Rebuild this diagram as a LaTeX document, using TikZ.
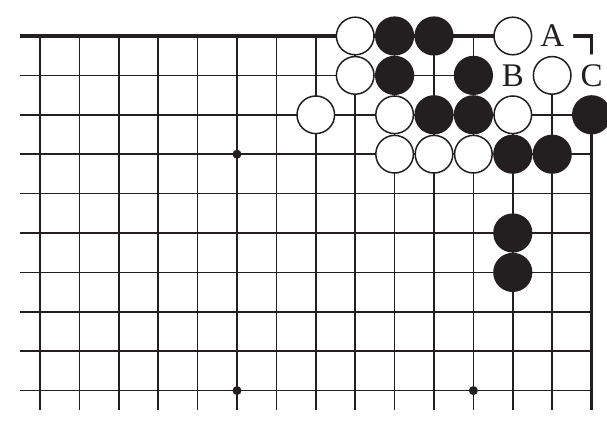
\documentclass[tikz,border=0pt]{standalone}
\usepackage{fontspec}
\newfontfamily\markfont{Liberation Serif}
\usetikzlibrary{backgrounds}
\definecolor{ink}{RGB}{35,31,32}
\tikzset{
  gridline/.style={line width=1.7pt, color=ink},
  edgeline/.style={line width=3.8pt, color=ink, line join=miter},
  whitestone/.style={circle, draw=ink, line width=1.5pt, fill=white, minimum size=37.6pt, inner sep=0pt},
  blackstone/.style={circle, fill=ink, minimum size=39.2pt, inner sep=0pt},
  starpoint/.style={circle, fill=ink, minimum size=9pt, inner sep=0pt},
  marklabel/.style={circle, fill=white, minimum size=42pt, inner sep=0pt, text=ink, font=\markfont\fontsize{33}{33}\selectfont},
}
\begin{document}
\begin{tikzpicture}[x=39.4pt,y=-39.4pt]
\useasboundingbox (-1.0152,-0.9137) rectangle (14.391,10);

%Grid lines
\foreach \r in {1,...,9} \draw[gridline] (-0.508,\r) -- (14,\r);
\foreach \c in {0,...,13} \draw[gridline] (\c,0) -- (\c,9.49);
%Board edges
\draw[edgeline] (-0.508,0) -- (14,0) -- (14,9.49);

%Star points
\foreach \c/\r in {5/3,5/9,11/9} \node[starpoint] (star-\c-\r) at (\c,\r) {};

%Letter marks
\node[marklabel] (mark-A) at (13,0) {A};
\node[marklabel] (mark-B) at (12,1) {B};
\node[marklabel] (mark-C) at (14,1) {C};

%Black stones
\foreach \c/\r in {9/0,10/0,9/1,11/1,10/2,11/2,14/2,12/3,13/3,12/5,12/6}
  \node[blackstone] (b-\c-\r) at (\c,\r) {};
%White stones
\foreach \c/\r in {8/0,12/0,8/1,13/1,7/2,9/2,12/2,9/3,10/3,11/3}
  \node[whitestone] (w-\c-\r) at (\c,\r) {};

\end{tikzpicture}
\end{document}
